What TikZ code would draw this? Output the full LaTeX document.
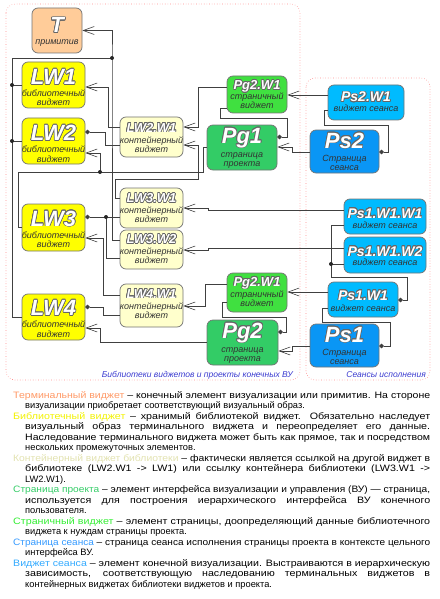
\documentclass[tikz,border=0pt]{standalone}
\usepackage{fontspec}
\setmainfont{Liberation Sans}
\usepackage{graphicx}
\usepackage{contour}
\contourlength{0.65pt}
\contournumber{16}
\usetikzlibrary{arrows.meta}
\definecolor{cT}{HTML}{FFCC99}
\definecolor{cLW}{HTML}{FFFF00}
\definecolor{cLWW}{HTML}{FFFFCC}
\definecolor{cPgW}{HTML}{40E040}
\definecolor{cPg}{HTML}{33CC66}
\definecolor{cPsW}{HTML}{00BBFF}
\definecolor{cPs}{HTML}{0A96F5}
\definecolor{hT}{HTML}{FF9966}
\definecolor{hL}{HTML}{F2F200}
\definecolor{hC}{HTML}{E2E2B0}
\definecolor{hP}{HTML}{33CC66}
\definecolor{hW}{HTML}{33EE33}
\definecolor{hS}{HTML}{3399FF}
\definecolor{hV}{HTML}{33AAFF}
\definecolor{gBlue}{HTML}{3A3ACF}
\definecolor{gRed}{HTML}{FF8C8C}
\newcommand\ttl[2]{{\fontsize{#1}{#1}\selectfont\bfseries\itshape\color{white}\contour{black!60}{#2}}}
\newsavebox\lnbox
\newcommand\jl[2]{\sbox\lnbox{#2}%
  \pgfmathsetmacro\rr{#1/\wd\lnbox}%
  \ifdim\rr pt>1.15pt\relax
    \scalebox{1.15}[1]{\makebox[\dimexpr#1*100/115\relax][s]{#2}}%
  \else
    \resizebox{#1}{\height}{\usebox\lnbox}%
  \fi}
\begin{document}
\begin{tikzpicture}[x=1pt,y=-1pt,
  box/.style={draw=black!55, line width=0.7pt, rounded corners=6pt, inner sep=0pt},
  grp/.style={draw=gRed, dotted, line width=0.6pt, rounded corners=9pt},
  conn/.style={draw=black!75, line width=0.6pt},
  inh/.style={conn, -{Straight Barb[length=11pt,width=8pt]}},
  comp/.style={conn, {Circle[length=4.5pt]}-},
  t/.style={anchor=base, inner sep=0pt},
  s/.style={anchor=base, inner sep=0pt, font=\fontsize{9}{9}\selectfont\itshape, text=black!80},
  bl/.style={anchor=base west, inner sep=0pt, font=\fontsize{9.3}{10}\selectfont},
  gl/.style={anchor=base east, inner sep=0pt, font=\fontsize{8.5}{10}\selectfont\itshape, text=gBlue}]
\useasboundingbox (0,0) rectangle (439,599);

% groups
\draw[grp] (6,4) rectangle (300,380);
\draw[grp] (306,78) rectangle (430,380);
\node[gl] (g1) at (293,377) {Библиотеки виджетов и проекты конечных ВУ};
\node[gl] (g2) at (426,377) {Сеансы исполнения};

% boxes
\node[box, fill=cT, minimum width=50pt, minimum height=45pt] (T) at (57,30.5) {};
\node[t] (Tt) at (57,33) {\ttl{22}{T}};
\node[s] (Ts) at (57,45) {примитив};

\node[box, fill=cLW, minimum width=63pt, minimum height=46pt] (LW1) at (53.5,85) {};
\node[t] (LW1t) at (53.5,84.5) {\ttl{22}{LW1}};
\node[s] (LW1s) at (53.5,96.5) {библиотечный};
\node[s] (LW1s2) at (53.5,106) {виджет};

\node[box, fill=cLW, minimum width=63pt, minimum height=46pt] (LW2) at (53.5,141) {};
\node[t] (LW2t) at (53.5,140.5) {\ttl{22}{LW2}};
\node[s] (LW2s) at (53.5,152.5) {библиотечный};
\node[s] (LW2s2) at (53.5,162) {виджет};

\node[box, fill=cLW, minimum width=63pt, minimum height=47pt] (LW3) at (53.5,227.5) {};
\node[t] (LW3t) at (53.5,226) {\ttl{22}{LW3}};
\node[s] (LW3s) at (53.5,238) {библиотечный};
\node[s] (LW3s2) at (53.5,247.5) {виджет};

\node[box, fill=cLW, minimum width=63pt, minimum height=46pt] (LW4) at (53.5,317) {};
\node[t] (LW4t) at (53.5,315.5) {\ttl{22}{LW4}};
\node[s] (LW4s) at (53.5,327.5) {библиотечный};
\node[s] (LW4s2) at (53.5,337) {виджет};

\node[box, fill=cLWW, minimum width=63pt, minimum height=40pt] (LW2W1) at (151.5,137) {};
\node[t] (LW2W1t) at (151.5,132) {\ttl{13}{LW2.W1}};
\node[s] (LW2W1s) at (151.5,143) {контейнерный};
\node[s] (LW2W1s2) at (151.5,152) {виджет};

\node[box, fill=cLWW, minimum width=63pt, minimum height=40pt] (LW3W1) at (151.5,208) {};
\node[t] (LW3W1t) at (151.5,202.5) {\ttl{13}{LW3.W1}};
\node[s] (LW3W1s) at (151.5,213.5) {контейнерный};
\node[s] (LW3W1s2) at (151.5,222.5) {виджет};

\node[box, fill=cLWW, minimum width=63pt, minimum height=39pt] (LW3W2) at (151.5,249.5) {};
\node[t] (LW3W2t) at (151.5,243.5) {\ttl{13}{LW3.W2}};
\node[s] (LW3W2s) at (151.5,254.5) {контейнерный};
\node[s] (LW3W2s2) at (151.5,263.5) {виджет};

\node[box, fill=cLWW, minimum width=63pt, minimum height=43pt] (LW4W1) at (151.5,305.5) {};
\node[t] (LW4W1t) at (151.5,298) {\ttl{13}{LW4.W1}};
\node[s] (LW4W1s) at (151.5,309) {контейнерный};
\node[s] (LW4W1s2) at (151.5,318) {виджет};

\node[box, fill=cPgW, minimum width=60pt, minimum height=37pt] (Pg2W1a) at (257,94.5) {};
\node[t] (Pg2W1at) at (257,89.5) {\ttl{13}{Pg2.W1}};
\node[s] (Pg2W1as) at (257,99.5) {страничный};
\node[s] (Pg2W1as2) at (257,108.5) {виджет};

\node[box, fill=cPg, minimum width=70pt, minimum height=45pt] (Pg1) at (242,147.5) {};
\node[t] (Pg1t) at (242,143) {\ttl{22}{Pg1}};
\node[s] (Pg1s) at (242,157) {страница};
\node[s] (Pg1s2) at (242,166) {проекта};

\node[box, fill=cPgW, minimum width=60pt, minimum height=39pt] (Pg2W1b) at (257,292.5) {};
\node[t] (Pg2W1bt) at (257,286) {\ttl{13}{Pg2.W1}};
\node[s] (Pg2W1bs) at (257,297) {страничный};
\node[s] (Pg2W1bs2) at (257,306) {виджет};

\node[box, fill=cPg, minimum width=71pt, minimum height=45pt] (Pg2) at (242.5,342.5) {};
\node[t] (Pg2t) at (242.5,338) {\ttl{22}{Pg2}};
\node[s] (Pg2s) at (242.5,352) {страница};
\node[s] (Pg2s2) at (242.5,361.5) {проекта};

\node[box, fill=cPsW, minimum width=76pt, minimum height=35pt] (Ps2W1) at (366,102.5) {};
\node[t] (Ps2W1t) at (366,102) {\ttl{14}{Ps2.W1}};
\node[s] (Ps2W1s) at (366,112) {виджет сеанса};

\node[box, fill=cPs, minimum width=69pt, minimum height=43pt] (Ps2) at (344.5,151.5) {};
\node[t] (Ps2t) at (344.5,148) {\ttl{22}{Ps2}};
\node[s] (Ps2s) at (344.5,161) {Страница};
\node[s] (Ps2s2) at (344.5,170) {сеанса};

\node[box, fill=cPsW, minimum width=82pt, minimum height=35pt] (Ps1W1W1) at (385,216.5) {};
\node[t] (Ps1W1W1t) at (385,218) {\ttl{14}{Ps1.W1.W1}};
\node[s] (Ps1W1W1s) at (385,228) {виджет сеанса};

\node[box, fill=cPsW, minimum width=82pt, minimum height=36pt] (Ps1W1W2) at (385,255) {};
\node[t] (Ps1W1W2t) at (385,256) {\ttl{14}{Ps1.W1.W2}};
\node[s] (Ps1W1W2s) at (385,265.5) {виджет сеанса};

\node[box, fill=cPsW, minimum width=70pt, minimum height=35pt] (Ps1W1) at (363,299.5) {};
\node[t] (Ps1W1t) at (363,300) {\ttl{14}{Ps1.W1}};
\node[s] (Ps1W1s) at (363,311) {виджет сеанса};

\node[box, fill=cPs, minimum width=69pt, minimum height=43pt] (Ps1) at (344.5,345.5) {};
\node[t] (Ps1t) at (344.5,342) {\ttl{22}{Ps1}};
\node[s] (Ps1s) at (344.5,355) {Страница};
\node[s] (Ps1s2) at (344.5,364) {сеанса};

% junctions
\coordinate (jT) at (112,58);
\coordinate (jL1) at (12,85);
\coordinate (jL2) at (12,141);
\coordinate (jLW2) at (100,172);
\coordinate (jLW3) at (106,217);
\coordinate (jPs1) at (331,264);

% connectors: inheritance to T
\draw[inh] (LW3W2.west |- 0,240) -| (jT) |- (T.east);
\draw[conn] (LW4.west) -| (12,58) -- (jT);
\draw[conn] (LW1.west) -- (jL1);
\draw[conn] (LW2.west) -- (jL2);
% LW2.W1 -> LW1
\draw[inh] (LW2W1.west |- 0,127) -| (108,87) -- (LW1.east |- 0,87);
% LW2 contains LW2.W1
\draw[comp] (LW2.east |- 0,132) -| (105,145) -- (LW2W1.west |- 0,145);
% LW3, Pg1 -> LW2
\draw[inh] (jLW2) |- (LW2.east |- 0,153);
\draw[conn] (LW3.west) -| (18,172) -- (jLW2);
\draw[conn] (Pg1.west) -| (203,172) -- (jLW2);
% LW3.W1 -> LW2.W1
\draw[inh] (LW3W1.west |- 0,198) -| (115,179) -| (198,145) -- (LW2W1.east |- 0,145);
% Pg2.W1 -> LW2.W1
\draw[inh] (Pg2W1a.west |- 0,87) -| (198,127) -- (LW2W1.east |- 0,127);
% Pg1 contains Pg2.W1
\draw[comp] (Pg1.east |- 0,137) -| (287,118) -| (220,108) -- (Pg2W1a.west |- 0,108);
% Ps2.W1 -> Pg2.W1
\draw[inh] (Ps2W1.west |- 0,95) -- (Pg2W1a.east |- 0,95);
% Ps2 contains Ps2.W1
\draw[comp] (Ps2.east |- 0,152) -| (388,125) -| (324,110) -- (Ps2W1.west |- 0,110);
% Ps2 -> Pg1
\draw[inh] (Ps2.west |- 0,152) -| (292,147) -- (Pg1.east |- 0,147);
% Ps1.W1.W1 -> LW3.W1 ; Ps1.W1.W2 -> LW3.W2
\draw[inh] (Ps1W1W1.west |- 0,210) -| (208,208) -- (LW3W1.east |- 0,208);
\draw[inh] (Ps1W1W2.west |- 0,248) -| (208,250) -- (LW3W2.east |- 0,250);
% LW3 contains LW3.W1, LW3.W2
\draw[comp] (LW3.east |- 0,217) -- (LW3W1.west |- 0,217);
\draw[conn] (jLW3) |- (LW3W2.west |- 0,258);
% LW4.W1 -> LW3
\draw[inh] (LW4W1.west |- 0,295) -| (103,238) -- (LW3.east |- 0,238);
% LW4 contains LW4.W1
\draw[comp] (LW4.east |- 0,307) -| (103,315) -- (LW4W1.west |- 0,315);
% Pg2 -> LW4
\draw[inh] (Pg2.west |- 0,342) -| (100,328) -- (LW4.east |- 0,328);
% Pg2.W1 -> LW4.W1
\draw[inh] (Pg2W1b.west |- 0,284) -| (205,306) -- (LW4W1.east |- 0,306);
% Pg2 contains Pg2.W1
\draw[comp] (Pg2.east |- 0,332) -| (286,317) -| (222,302) -- (Pg2W1b.west |- 0,302);
% Ps1.W1 -> Pg2.W1
\draw[inh] (Ps1W1.west |- 0,292) -- (Pg2W1b.east |- 0,292);
% Ps1.W1 contains Ps1.W1.W1, Ps1.W1.W2
\draw[comp] (Ps1W1.east |- 0,300) -| (407,277) -| (331,225) -- (Ps1W1W1.west |- 0,225);
\draw[conn] (jPs1) -- (Ps1W1W2.west |- 0,264);
% Ps1 contains Ps1.W1
\draw[comp] (Ps1.east |- 0,346) -| (390,322) -| (322,308) -- (Ps1W1.west |- 0,308);
% Ps1 -> Pg2
\draw[inh] (Ps1.west |- 0,346) -| (292,351) -- (Pg2.east |- 0,351);

% junction dots
\foreach \j in {jT,jL1,jL2,jLW2,jLW3,jPs1} \fill[black!85] (\j) circle (2pt);

% legend text
\node[bl] (b0) at (13,398) {\jl{417pt}{\textcolor{hT}{Терминальный виджет} – конечный элемент визуализации или примитив. На стороне}};
\node[bl] (b1) at (25,408.5) {визуализации приобретает соответствующий визуальный образ.};
\node[bl] (b2) at (13,419) {\jl{417pt}{\textcolor{hL}{Библиотечный виджет} – хранимый библиотекой виджет. Обязательно наследует}};
\node[bl] (b3) at (25,429.5) {\jl{405pt}{визуальный образ терминального виджета и переопределяет его данные.}};
\node[bl] (b4) at (25,440) {\jl{405pt}{Наследование терминального виджета может быть как прямое, так и посредством}};
\node[bl] (b5) at (25,450.5) {нескольких промежуточных элементов.};
\node[bl] (b6) at (13,461) {\jl{417pt}{\textcolor{hC}{Контейнерный виджет библиотеки} – фактически является ссылкой на другой виджет в}};
\node[bl] (b7) at (25,471.5) {\jl{405pt}{библиотеке (LW2.W1 -> LW1) или ссылку контейнера библиотеки (LW3.W1 ->}};
\node[bl] (b8) at (25,482) {LW2.W1).};
\node[bl] (b9) at (13,492.5) {\jl{417pt}{\textcolor{hP}{Страница проекта} – элемент интерфейса визуализации и управления (ВУ) — страница,}};
\node[bl] (b10) at (25,503) {\jl{405pt}{используется для построения иерархического интерфейса ВУ конечного}};
\node[bl] (b11) at (25,513.5) {пользователя.};
\node[bl] (b12) at (13,524) {\jl{417pt}{\textcolor{hW}{Страничный виджет} – элемент страницы, доопределяющий данные библиотечного}};
\node[bl] (b13) at (25,534.5) {виджета к нуждам страницы проекта.};
\node[bl] (b14) at (13,545) {\jl{417pt}{\textcolor{hS}{Страница сеанса} – страница сеанса исполнения страницы проекта в контексте цельного}};
\node[bl] (b15) at (25,555.5) {интерфейса ВУ.};
\node[bl] (b16) at (13,566) {\jl{417pt}{\textcolor{hV}{Виджет сеанса} – элемент конечной визуализации. Выстраиваются в иерархическую}};
\node[bl] (b17) at (25,576.5) {\jl{405pt}{зависимость, соответствующую наследованию терминальных виджетов в}};
\node[bl] (b18) at (25,587) {контейнерных виджетах библиотеки виджетов и проекта.};
\end{tikzpicture}
\end{document}
